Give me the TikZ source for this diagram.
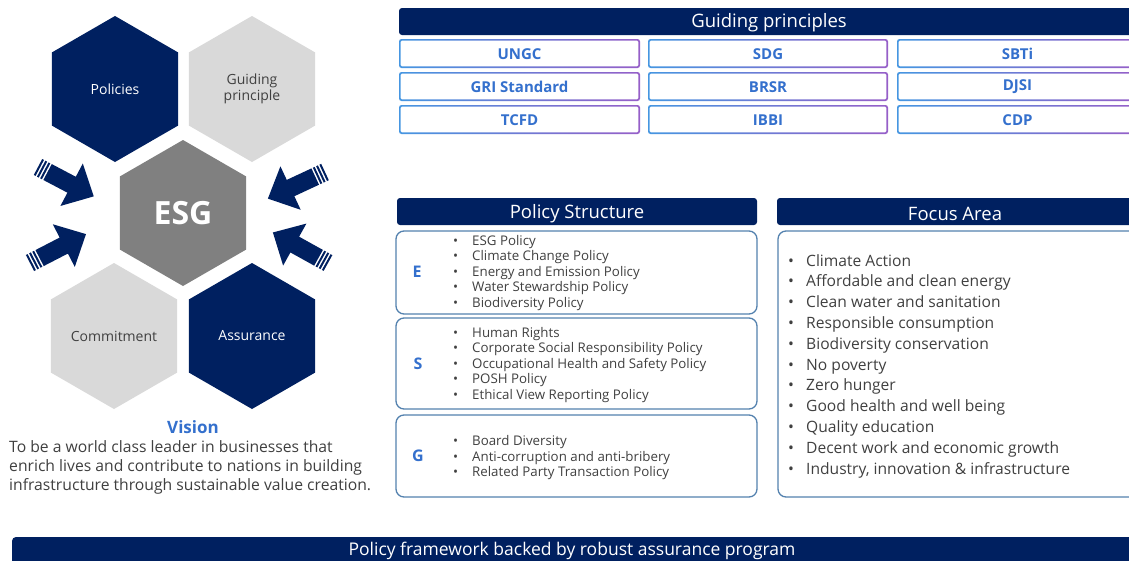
\documentclass[tikz,border=0pt]{standalone}
\usepackage{fontspec}
\setmainfont{Open Sans}
\definecolor{navy}{RGB}{0,32,96}
\definecolor{hexgray}{RGB}{217,217,217}
\definecolor{esggray}{RGB}{128,128,128}
\definecolor{accent}{RGB}{52,112,205}
\definecolor{txtgray}{RGB}{64,64,64}
\definecolor{boxblue}{RGB}{84,130,175}
\definecolor{cellblue}{RGB}{70,150,225}
\definecolor{cellpurple}{RGB}{150,95,200}
\newcommand{\hexfill}[2]{\fill[#2] (#1) +(30:73) -- +(90:73) -- +(150:73) -- +(210:73) -- +(270:73) -- +(330:73) -- cycle;}
\newcommand{\blockarrow}[2]{%
  \begin{scope}[shift={#1}, rotate=#2]
    \fill[navy] (0,-9) rectangle (2,9);
    \fill[navy] (3.6,-9) rectangle (5.6,9);
    \fill[navy] (7.2,-9) rectangle (9.2,9);
    \fill[navy] (10.8,-9) -- (38,-9) -- (38,-24) -- (63,0) -- (38,24) -- (38,9) -- (10.8,9) -- cycle;
  \end{scope}}
\newcommand{\gpcell}[6]{%
  \shade[left color=cellblue, right color=cellpurple, rounded corners=2.5pt] (#2,#3) rectangle (#4,#5);
  \fill[white, rounded corners=1.5pt] (#2+1.6,#3+1.6) rectangle (#4-1.6,#5-1.6);
  \node[celltext] (#1) at ({(#2+#4)/2},{(#3+#5)/2+0.5}) {#6};}
\newcommand{\itm}[2]{\makebox[#1][l]{\textbullet}#2}
\tikzset{
  hexlabel/.style={font=\fontsize{14}{16}\selectfont, align=center, inner sep=0},
  headbar/.style={fill=navy, rounded corners=3pt},
  headtext/.style={text=white, font=\fontsize{18.5}{21}\selectfont, inner sep=0},
  celltext/.style={text=accent, font=\bfseries\fontsize{15}{17}\selectfont, inner sep=0},
  groupbox/.style={draw=boxblue, line width=1.3pt, rounded corners=8pt},
  letter/.style={text=accent, font=\bfseries\fontsize{16}{18}\selectfont, inner sep=0},
  plist/.style={text=txtgray, font=\fontsize{13.3}{15.5}\selectfont, align=left, inner sep=0, anchor=west},
  flist/.style={text=txtgray, font=\fontsize{15.6}{20.8}\selectfont, align=left, inner sep=0, anchor=west},
}
\begin{document}
\begin{tikzpicture}[x=1pt,y=-1pt]
\useasboundingbox (0,0) rectangle (1129,560);
\clip (0,0) rectangle (1129,560);
\fill[white] (0,0) rectangle (1129,560);

% hexagons
\coordinate (cpol) at (115,89);
\coordinate (cgui) at (252,89);
\coordinate (cesg) at (183,213);
\coordinate (ccom) at (114,336);
\coordinate (cass) at (252,336);
\hexfill{cpol}{navy}
\hexfill{cgui}{hexgray}
\hexfill{cesg}{esggray}
\hexfill{ccom}{hexgray}
\hexfill{cass}{navy}
\node[hexlabel, text=white] (pol) at (cpol) {Policies};
\node[hexlabel, text=txtgray] (gui) at (cgui) {Guiding\\principle};
\node[text=white, font=\bfseries\fontsize{32}{34}\selectfont, inner sep=0] (esg) at (cesg) {ESG};
\node[hexlabel, text=txtgray] (com) at (ccom) {Commitment};
\node[hexlabel, text=white] (ass) at (cass) {Assurance};

% block arrows
\blockarrow{(38,167)}{-27.8}
\blockarrow{(30,263)}{27.3}
\blockarrow{(325,172)}{205}
\blockarrow{(328,263)}{151}

% vision
\node[text=accent, font=\bfseries\fontsize{17}{20}\selectfont, inner sep=0] (vis) at (193,427) {Vision};
\node[text=txtgray, font=\fontsize{15.7}{19}\selectfont, align=left, inner sep=0, anchor=west] (vtext) at (9,467)
  {To be a world class leader in businesses that\\enrich lives and contribute to nations in building\\infrastructure through sustainable value creation.};

% guiding principles
\fill[headbar] (399,8) rectangle (1145,35);
\node[headtext] (gph) at (769,23) {Guiding principles};
\gpcell{c11}{399}{39}{640}{68}{UNGC}
\gpcell{c12}{648}{39}{888}{68}{SDG}
\gpcell{c13}{897}{39}{1138}{68}{SBTi}
\gpcell{c21}{399}{72}{640}{101}{GRI Standard}
\gpcell{c22}{648}{72}{888}{101}{BRSR}
\gpcell{c23}{897}{72}{1138}{101}{DJSI}
\gpcell{c31}{399}{105}{640}{134}{TCFD}
\gpcell{c32}{648}{105}{888}{134}{IBBI}
\gpcell{c33}{897}{105}{1138}{134}{CDP}

% policy structure
\fill[headbar] (397,198) rectangle (757,225);
\node[headtext] (psh) at (577,214) {Policy Structure};
\draw[groupbox] (396,231) rectangle (757,314);
\draw[groupbox] (396,318) rectangle (757,409);
\draw[groupbox] (396,415) rectangle (757,497);
\node[letter] (le) at (417,272) {E};
\node[letter] (ls) at (418,364) {S};
\node[letter] (lg) at (418,456) {G};
\node[plist] (pe) at (453,273) {\itm{19pt}{ESG Policy}\\\itm{19pt}{Climate Change Policy}\\\itm{19pt}{Energy and Emission Policy}\\\itm{19pt}{Water Stewardship Policy}\\\itm{19pt}{Biodiversity Policy}};
\node[plist] (ps) at (453,365) {\itm{19pt}{Human Rights}\\\itm{19pt}{Corporate Social Responsibility Policy}\\\itm{19pt}{Occupational Health and Safety Policy}\\\itm{19pt}{POSH Policy}\\\itm{19pt}{Ethical View Reporting Policy}};
\node[plist] (pg) at (453,458) {\itm{19pt}{Board Diversity}\\\itm{19pt}{Anti-corruption and anti-bribery}\\\itm{19pt}{Related Party Transaction Policy}};

% focus area
\fill[headbar] (777,198) rectangle (1145,225);
\node[headtext] (fah) at (955,214) {Focus Area};
\draw[groupbox] (778,231) rectangle (1145,497);
\node[flist] (fl) at (788,366) {\itm{18pt}{Climate Action}\\\itm{18pt}{Affordable and clean energy}\\\itm{18pt}{Clean water and sanitation}\\\itm{18pt}{Responsible consumption}\\\itm{18pt}{Biodiversity conservation}\\\itm{18pt}{No poverty}\\\itm{18pt}{Zero hunger}\\\itm{18pt}{Good health and well being}\\\itm{18pt}{Quality education}\\\itm{18pt}{Decent work and economic growth}\\\itm{18pt}{Industry, innovation \& infrastructure}};

% bottom bar
\fill[navy, rounded corners=4pt] (12,537) rectangle (1145,585);
\node[text=white, font=\fontsize{17.5}{20}\selectfont, inner sep=0] (bot) at (572,550.5) {Policy framework backed by robust assurance program};
\end{tikzpicture}
\end{document}
